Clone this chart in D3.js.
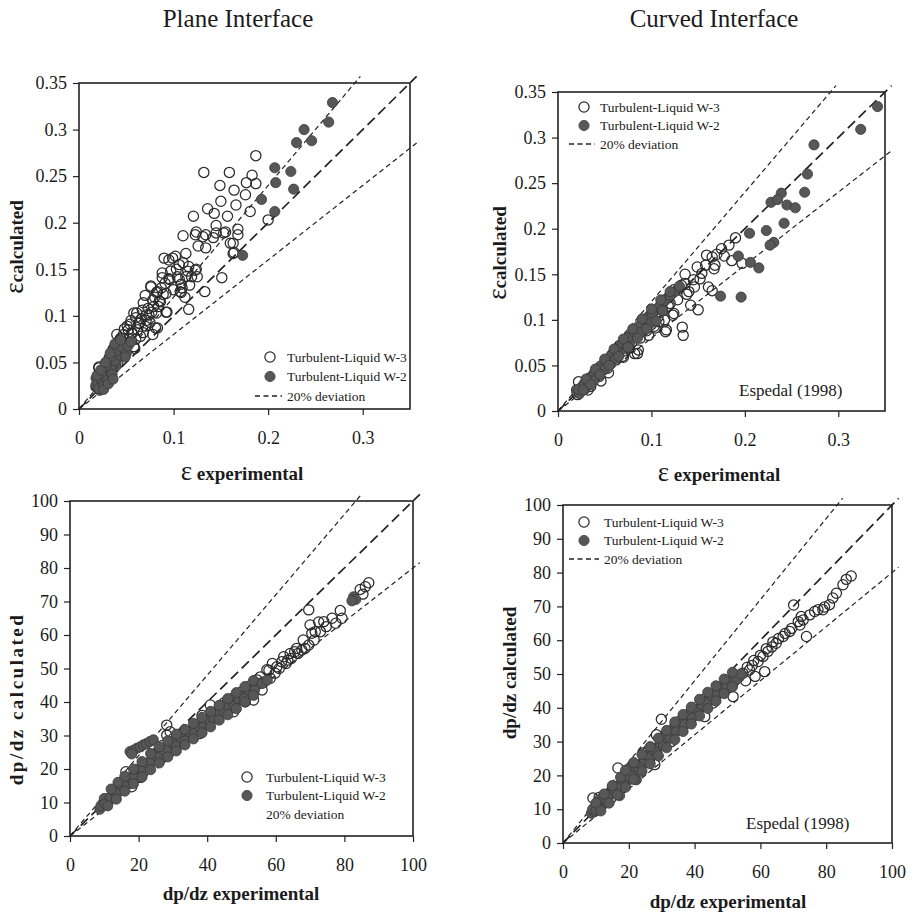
<!DOCTYPE html>
<html lang="en">
<head>
<meta charset="UTF-8">
<title>Plane / Curved Interface</title>
<script src="https://cdn.jsdelivr.net/npm/d3@7/dist/d3.min.js"></script>
<style>
  body { margin: 0; background: #fff; }
  svg { display: block; }
  text { font-family: "Liberation Serif", "Times New Roman", serif; fill: #1b1b1b; }
</style>
</head>
<body>
<script>
// ---- data ----
const epsTicksX = [0, 0.1, 0.2, 0.3];
const epsTicksY = [0, 0.05, 0.1, 0.15, 0.2, 0.25, 0.3, 0.35];
const dpTicksX = [0, 20, 40, 60, 80, 100];
const dpTicksY = [0, 10, 20, 30, 40, 50, 60, 70, 80, 90, 100];
const legendLabels = ["Turbulent-Liquid W-3", "Turbulent-Liquid W-2", "20% deviation"];
const deviationRatios = [1.2, 1, 0.8];

// plane interface, void fraction
const planeEpsOpen = [
  [0.187,0.272],[0.132,0.254],[0.159,0.254],[0.183,0.251],[0.149,0.240],[0.164,0.235],[0.177,0.243],[0.187,0.242],
  [0.176,0.230],[0.166,0.219],[0.150,0.223],[0.136,0.215],[0.181,0.212],[0.121,0.207],[0.143,0.210],[0.157,0.207],
  [0.145,0.197],[0.168,0.193],[0.168,0.187],[0.200,0.203],[0.110,0.186],[0.124,0.190],[0.131,0.185],[0.142,0.184],
  [0.153,0.189],[0.126,0.175],[0.134,0.173],[0.163,0.178],[0.113,0.167],[0.163,0.167],[0.090,0.162],[0.099,0.162],
  [0.110,0.157],[0.103,0.150],[0.115,0.148],[0.124,0.150],[0.119,0.142],[0.151,0.141],[0.088,0.141],[0.096,0.139],
  [0.108,0.134],[0.108,0.125],[0.076,0.132],[0.082,0.125],[0.089,0.123],[0.133,0.126],[0.068,0.114],[0.078,0.117],
  [0.085,0.116],[0.116,0.107],[0.061,0.103],[0.071,0.101],[0.082,0.103],[0.092,0.104],[0.054,0.091],[0.064,0.092],
  [0.075,0.093],[0.083,0.087],[0.056,0.082],[0.068,0.082],[0.078,0.080],[0.043,0.074],[0.050,0.071],[0.059,0.065],
  [0.036,0.064],[0.043,0.060],[0.032,0.055],[0.039,0.049],[0.021,0.044],[0.025,0.039],[0.022,0.031],[0.018,0.024],
  [0.123,0.187],[0.134,0.187],[0.145,0.189],[0.155,0.190],[0.160,0.178],[0.164,0.168],[0.095,0.160],[0.102,0.164],
  [0.106,0.155],[0.116,0.153],[0.123,0.149],[0.125,0.142],[0.095,0.140],[0.106,0.139],[0.113,0.142],[0.109,0.130],
  [0.107,0.126],[0.088,0.146],[0.076,0.131],[0.083,0.126],[0.092,0.124],[0.070,0.122],[0.086,0.115],[0.093,0.104],
  [0.079,0.110],[0.067,0.106],[0.074,0.101],[0.058,0.103],[0.063,0.092],[0.051,0.089],[0.070,0.089],[0.081,0.087],
  [0.056,0.081],[0.065,0.078],[0.044,0.076],[0.049,0.070],[0.058,0.067],[0.039,0.063],[0.046,0.060],[0.035,0.053],
  [0.041,0.049],[0.028,0.042],[0.021,0.045],[0.033,0.035],[0.025,0.030],[0.019,0.024],
  [0.030,0.050],[0.034,0.058],[0.038,0.067],[0.042,0.072],[0.047,0.080],[0.052,0.085],[0.055,0.095],[0.060,0.098],
  [0.062,0.085],[0.066,0.097],[0.071,0.095],[0.073,0.108],[0.077,0.104],[0.080,0.120],[0.084,0.110],[0.087,0.130],
  [0.091,0.135],[0.097,0.148],[0.100,0.128],[0.104,0.142],[0.112,0.120],[0.117,0.133],[0.047,0.070],[0.053,0.076],
  [0.060,0.075],[0.040,0.080],[0.048,0.086],[0.027,0.036],[0.031,0.045]
];
const planeEpsFilled = [
  [0.268,0.329],[0.238,0.300],[0.246,0.288],[0.264,0.308],[0.230,0.286],[0.207,0.259],[0.224,0.255],[0.208,0.243],
  [0.227,0.236],[0.193,0.225],[0.207,0.212],[0.173,0.165],
  [0.018,0.026],[0.021,0.031],[0.025,0.035],[0.026,0.040],[0.030,0.044],[0.032,0.049],[0.035,0.054],[0.037,0.060],
  [0.041,0.065],[0.042,0.070],[0.023,0.024],[0.028,0.029],[0.033,0.038],[0.039,0.046],[0.046,0.057],[0.018,0.033],
  [0.022,0.020],[0.027,0.033],[0.031,0.041],[0.036,0.047],[0.040,0.055],[0.044,0.062],
  [0.020,0.028],[0.024,0.027],[0.029,0.036],[0.034,0.043],[0.038,0.052],[0.043,0.058],[0.047,0.064],[0.024,0.038],
  [0.029,0.047],[0.034,0.056],[0.039,0.062],[0.045,0.067],[0.050,0.060],[0.052,0.068],[0.021,0.022],[0.026,0.025],
  [0.030,0.031],[0.035,0.037],
  [0.019,0.036],[0.023,0.042],[0.028,0.050],[0.033,0.060],[0.038,0.070],[0.044,0.074],[0.049,0.056],[0.055,0.072],
  [0.026,0.021],[0.031,0.027],[0.036,0.032]
];

// curved interface, void fraction
const curvedEpsOpen = [
  [0.190,0.190],[0.183,0.182],[0.175,0.178],[0.186,0.165],[0.197,0.162],[0.159,0.171],[0.165,0.169],[0.149,0.158],
  [0.167,0.156],[0.136,0.150],[0.154,0.151],[0.145,0.144],[0.161,0.136],[0.165,0.132],[0.136,0.140],[0.140,0.131],
  [0.124,0.133],[0.119,0.125],[0.142,0.116],[0.150,0.111],[0.111,0.116],[0.124,0.107],[0.133,0.092],[0.134,0.083],
  [0.115,0.087],[0.104,0.105],[0.097,0.098],[0.104,0.091],[0.092,0.089],[0.085,0.063],[0.076,0.069],[0.069,0.060],
  [0.062,0.056],[0.053,0.047],[0.044,0.038],[0.035,0.027],[0.022,0.032],[0.021,0.018],[0.097,0.083],[0.083,0.085],
  [0.168,0.160],[0.128,0.133],[0.118,0.115],[0.123,0.105],[0.114,0.100],[0.107,0.103],[0.116,0.089],[0.103,0.093],
  [0.095,0.088],[0.086,0.067],[0.082,0.063],[0.075,0.070],[0.070,0.059],[0.054,0.042],[0.046,0.033],[0.032,0.023],
  [0.020,0.023],
  [0.058,0.062],[0.066,0.072],[0.072,0.066],[0.079,0.075],[0.088,0.080],[0.093,0.100],[0.100,0.095],[0.108,0.098],
  [0.112,0.110],[0.120,0.118],[0.128,0.122],[0.132,0.138],[0.138,0.128],[0.146,0.136],[0.152,0.145],[0.158,0.160],
  [0.170,0.172],[0.178,0.170],[0.040,0.040],[0.048,0.045],[0.030,0.029],[0.026,0.025]
];
const curvedEpsFilled = [
  [0.342,0.334],[0.324,0.309],[0.274,0.292],[0.267,0.260],[0.264,0.240],[0.239,0.239],[0.228,0.229],[0.245,0.226],
  [0.254,0.223],[0.242,0.206],[0.205,0.195],[0.223,0.198],[0.231,0.185],[0.227,0.182],[0.193,0.170],[0.206,0.163],
  [0.215,0.157],[0.174,0.126],[0.196,0.125],[0.235,0.232],
  [0.020,0.021],[0.026,0.027],[0.031,0.033],[0.037,0.039],[0.043,0.046],[0.049,0.052],[0.055,0.058],[0.061,0.065],
  [0.067,0.071],[0.073,0.078],[0.079,0.084],[0.085,0.091],[0.091,0.097],[0.097,0.104],[0.103,0.110],[0.110,0.117],
  [0.117,0.124],[0.124,0.130],[0.023,0.019],[0.029,0.024],[0.034,0.030],[0.040,0.036],[0.046,0.043],[0.052,0.049],
  [0.058,0.055],[0.064,0.062],[0.070,0.068],[0.077,0.075],[0.084,0.083],[0.094,0.095],[0.106,0.112],[0.130,0.137],
  [0.022,0.024],[0.028,0.030],[0.033,0.036],[0.039,0.042],[0.045,0.049],[0.051,0.055],[0.057,0.061],[0.063,0.067],
  [0.069,0.074],[0.075,0.081],[0.081,0.087],[0.087,0.094],[0.095,0.100],[0.101,0.107],[0.108,0.114],[0.114,0.121],
  [0.120,0.127],[0.027,0.023],[0.038,0.033],[0.050,0.046],[0.062,0.058],[0.074,0.071],[0.088,0.086],[0.100,0.097],
  [0.112,0.110],
  [0.030,0.035],[0.040,0.046],[0.050,0.057],[0.060,0.068],[0.070,0.079],[0.080,0.090],[0.090,0.101],[0.100,0.112],
  [0.110,0.122],[0.120,0.131],[0.035,0.029],[0.045,0.040],[0.055,0.050],[0.065,0.060],[0.075,0.070],[0.085,0.080],
  [0.095,0.090],[0.105,0.099]
];

// plane interface, pressure gradient
const planeDpOpen = [
  [87.1,75.6],[86.1,74.4],[84.6,73.6],[85.4,72.2],[78.8,67.3],[79.3,65.0],[76.4,65.0],[74.7,62.5],[72.5,63.9],
  [70.0,63.0],[69.6,67.5],[70.5,60.5],[71.2,58.5],[69.6,57.0],[67.6,55.5],[66.1,56.0],[64.2,54.5],[62.3,53.5],
  [61.7,52.0],[60.3,50.5],[59.8,48.6],[58.4,47.1],[57.4,49.6],[54.5,46.6],[56.0,43.6],[54.5,45.6],[52.0,43.1],
  [51.1,40.1],[53.5,40.6],[47.7,40.6],[47.7,37.1],[45.7,39.6],[43.8,36.1],[40.9,39.1],[40.9,35.1],[37.9,33.6],
  [37.9,30.6],[35.5,31.6],[32.1,29.7],[28.2,33.1],[29.2,31.1],[30.2,29.2],[28.2,30.1],[24.3,27.2],[16.3,19.2],
  [18.0,14.7],[33.5,30.5],[36.5,32.5],[39.5,34.0],[42.5,37.0],[44.5,38.5],[49.0,42.0],[50.5,41.5],[63.5,52.5],
  [65.5,55.0],[73.0,61.0],[68.0,58.5],[26.5,23.5],[22.0,19.8],[20.5,17.5],
  [45.0,39.8],[46.5,38.0],[48.0,41.5],[50.0,43.0],[52.5,44.8],[55.5,47.5],[56.5,46.0],[58.0,49.5],[59.0,51.5],
  [61.0,50.0],[63.0,51.5],[64.5,53.0],[66.5,54.5],[68.5,56.0],[71.5,61.0],[74.0,64.0],[77.5,63.5],[31.0,28.0],
  [34.5,30.0],[38.5,36.0],[41.5,36.5],[27.0,27.0],[25.5,25.0]
];
const planeDpFilled = [
  [82.7,71.4],[83.3,70.6],[82.2,70.2],
  [17.5,25.2],[18.5,25.6],[19.5,26.2],[20.5,26.6],[21.4,27.2],[22.3,27.6],[23.3,28.2],[24.3,28.7],[18.0,24.5],
  [8.7,8.0],[9.5,9.6],[10.7,10.5],[11.5,10.6],[12.6,12.5],[13.5,12.6],[14.6,14.3],[15.5,14.5],[17.0,16.6],
  [18.0,16.9],[19.4,18.9],[20.5,19.0],[21.9,20.8],[23.0,21.2],[24.3,22.8],[25.5,23.0],[26.7,24.6],[28.0,25.0],
  [29.2,26.4],[30.5,27.0],[31.6,28.0],[33.0,28.6],[34.0,29.6],[35.5,30.6],[36.9,31.6],[38.5,32.4],[39.9,33.6],
  [41.5,35.0],[42.8,36.0],[44.5,37.2],[45.7,38.0],[47.0,39.4],[48.6,40.2],[50.0,41.6],[51.5,42.6],[53.0,43.8],
  [54.4,45.0],[10.0,11.2],[16.0,15.6],
  [9.0,9.0],[10.2,9.6],[11.8,11.6],[13.0,13.2],[14.0,13.0],[15.0,15.2],[16.5,15.4],[17.5,17.4],[18.8,17.8],
  [20.0,20.0],[21.2,19.8],[22.5,21.8],[23.6,22.2],[25.0,24.0],[26.2,23.8],[27.4,25.6],[28.6,26.0],[30.0,27.6],
  [31.0,26.8],[32.4,29.2],[33.6,28.4],[35.0,31.0],[36.2,30.6],[37.6,32.6],[39.0,32.8],[40.6,34.6],[42.0,35.0],
  [43.5,37.0],[45.0,36.8],[46.3,39.0],[47.8,38.8],[49.2,41.0],[50.8,41.0],[52.3,43.4],[53.8,43.6],
  [12.0,14.0],[14.0,16.0],[16.0,17.8],[18.5,20.0],[21.0,22.2],[23.5,24.6],[26.0,26.6],[28.5,28.4],[31.0,30.4],
  [33.5,31.8],[36.0,33.6],[38.5,35.4],[41.0,37.2],[43.5,39.0],[46.0,41.0],[48.5,42.8],[51.0,44.6],[53.5,46.4],
  [11.0,9.0],[13.5,11.0],[16.0,13.4],[18.5,15.6],[21.0,17.6],[23.5,19.8],[26.0,21.8],[28.5,23.6],[31.0,25.4],
  [33.5,27.2],[36.0,29.0],[38.5,30.8],[41.0,32.6],[43.5,34.6],[46.0,36.2],[48.5,38.0],[51.0,40.0],[53.5,42.0],
  [56.0,45.5],[57.5,46.5]
];

// curved interface, pressure gradient
const curvedDpOpen = [
  [87.6,79.0],[86.1,78.0],[85.1,76.4],[83.1,73.9],[79.5,69.8],[70.1,70.4],[72.4,67.0],[75.0,67.5],[76.5,68.5],
  [74.0,61.1],[72.0,64.5],[68.9,62.6],[66.9,61.1],[64.8,59.1],[62.3,56.7],[60.8,55.2],[59.3,53.7],[61.3,50.7],
  [58.4,49.3],[56.7,51.2],[54.7,50.2],[51.7,47.3],[51.7,43.3],[48.6,44.8],[45.6,41.4],[43.1,37.4],[42.6,42.4],
  [38.5,38.4],[35.5,36.0],[32.9,30.0],[29.9,36.6],[30.4,29.6],[28.4,32.0],[27.9,23.2],[26.3,24.6],[24.3,26.6],
  [16.7,22.2],[9.1,13.3],[79.0,69.0],[71.5,65.5],[63.5,58.0],[57.5,52.5],[55.5,48.0],[53.0,49.0],[46.5,43.5],
  [40.5,40.0],[34.0,34.5],[31.5,32.5],[22.0,22.5],[20.5,20.0],[12.5,14.0],[14.5,13.2],
  [56.0,52.0],[58.0,54.0],[60.0,55.5],[61.8,57.5],[63.8,59.5],[65.5,60.5],[67.5,62.0],[69.5,63.5],[73.0,66.0],
  [77.5,69.0],[81.0,70.5],[82.0,72.5],[44.0,42.0],[47.5,45.0],[50.0,46.0],[36.8,37.0],[26.0,27.5],[18.0,19.5],
  [11.0,13.5]
];
const curvedDpFilled = [
  [8.6,8.8],[9.5,9.2],[10.3,10.5],[11.2,11.0],[12.0,12.3],[12.8,11.8],[13.6,13.4],[14.5,14.8],[15.3,14.6],
  [16.2,16.0],[17.0,17.2],[17.2,14.0],[18.0,17.6],[19.0,19.2],[19.8,18.6],[20.7,20.6],[21.6,21.8],[22.3,18.7],
  [22.5,21.0],[23.4,23.2],[24.3,24.0],[25.2,25.3],[26.0,24.8],[27.0,26.8],[28.0,28.0],[29.0,28.5],[30.0,30.0],
  [31.0,30.4],[32.0,32.0],[33.0,32.4],[34.0,34.0],[35.0,34.2],[36.5,34.7],[37.5,36.0],[38.5,37.2],[40.0,38.5],
  [41.5,39.8],[43.0,40.5],[44.5,42.0],[46.0,43.0],[47.5,44.5],[49.0,45.6],[50.5,46.8],[52.0,48.0],[53.5,49.0],
  [20.0,22.0],[15.0,16.5],[11.0,12.8],
  [9.0,10.0],[10.0,9.6],[11.6,11.8],[12.4,12.8],[13.2,12.6],[14.0,14.2],[15.8,15.4],[16.6,16.6],[17.6,16.8],
  [18.5,18.4],[19.4,20.0],[20.3,19.6],[21.2,21.0],[22.0,22.4],[23.0,22.0],[24.0,23.0],[24.8,24.6],[25.6,26.0],
  [26.5,25.5],[27.5,27.4],[28.5,27.2],[29.5,29.4],[30.5,29.0],[31.5,31.2],[32.5,31.0],[33.5,33.2],[34.5,33.0],
  [36.0,35.4],[37.0,35.0],[38.0,37.8],[39.3,37.0],[40.8,39.5],[42.2,41.0],[43.8,41.6],[45.2,43.5],[46.8,44.0],
  [48.2,46.0],[49.8,46.5],[51.2,48.5],[52.8,48.4],[54.0,50.0],
  [10.0,11.8],[12.5,14.5],[15.0,17.0],[17.5,19.5],[19.0,21.5],[21.5,23.8],[24.0,26.2],[26.5,28.5],[29.0,31.0],
  [31.5,33.3],[34.0,35.8],[36.5,38.0],[39.0,40.2],[41.5,42.5],[44.0,44.6],[46.5,46.5],[49.0,48.5],[51.5,50.5],
  [11.5,9.5],[14.0,11.8],[16.5,14.2],[19.0,16.5],[21.5,18.8],[24.0,21.2],[26.5,23.4],[29.0,25.8],[31.5,28.2],
  [34.0,30.6],[36.5,33.0],[39.0,35.2],[41.5,37.6],[44.0,39.8],[46.5,42.0],[49.0,44.2],[51.5,46.2]
];

// ---- layout ----
const W = 916, H = 913;
const panels = [
  { open: planeEpsOpen, filled: planeEpsFilled, max: 0.35, xt: epsTicksX, yt: epsTicksY, eps: true,
    box: [79, 83, 410, 409], xTitle: [242, 480], yTitle: [16, 247], yStretch: 0,
    leg: [270, 287, 357, 19.5, true], note: null },
  { open: curvedEpsOpen, filled: curvedEpsFilled, max: 0.35, xt: epsTicksX, yt: epsTicksY, eps: true,
    box: [558, 92, 885, 411], xTitle: [719, 481], yTitle: [499, 253], yStretch: 0,
    leg: [584, 600, 107, 18.5, true], note: [739, 396] },
  { open: planeDpOpen, filled: planeDpFilled, max: 100, xt: dpTicksX, yt: dpTicksY, eps: false,
    box: [70, 501, 413, 836], xTitle: [241, 900], yTitle: [16, 699], yStretch: 2.5,
    leg: [247, 266, 777, 18.5, false], note: null },
  { open: curvedDpOpen, filled: curvedDpFilled, max: 100, xt: dpTicksX, yt: dpTicksY, eps: false,
    box: [563, 505, 892, 843], xTitle: [728, 908], yTitle: [509, 673], yStretch: 0,
    leg: [584, 604, 522, 18.5, true], note: [746, 829] }
];
const headings = [["Plane Interface", 238, 27], ["Curved Interface", 714, 27]];

const svg = d3.select("body").append("svg")
  .attr("width", W).attr("height", H)
  .attr("viewBox", [0, 0, W, H]);

headings.forEach(([t, x, y]) => {
  svg.append("text").attr("x", x).attr("y", y)
    .attr("text-anchor", "middle").attr("font-size", 25).text(t);
});

const fmt = d3.format("~g");
const R = 5.1;

panels.forEach(p => {
  const [x0, y0, x1, y1] = p.box;
  const x = d3.scaleLinear().domain([0, p.max]).range([x0, x1]);
  const y = d3.scaleLinear().domain([0, p.max]).range([y1, y0]);
  const g = svg.append("g");

  // axes
  g.append("g").attr("transform", `translate(0,${y1})`)
    .call(d3.axisBottom(x).tickValues(p.xt).tickFormat(fmt).tickSize(6).tickPadding(16))
    .call(a => a.select(".domain").remove())
    .call(a => a.selectAll("line").attr("stroke", "#222").attr("stroke-width", 1.2))
    .call(a => a.selectAll("text").attr("font-size", 18).attr("fill", "#1b1b1b")
      .attr("font-family", "Liberation Serif, serif"));
  g.append("g").attr("transform", `translate(${x0},0)`)
    .call(d3.axisLeft(y).tickValues(p.yt).tickFormat(fmt).tickSize(6).tickPadding(6))
    .call(a => a.select(".domain").remove())
    .call(a => a.selectAll("line").attr("stroke", "#222").attr("stroke-width", 1.2))
    .call(a => a.selectAll("text").attr("font-size", 18).attr("fill", "#1b1b1b")
      .attr("font-family", "Liberation Serif, serif"));

  // 20% deviation lines and parity line
  const lim = p.max * 1.02;
  deviationRatios.forEach(r => {
    const xe = Math.min(lim, lim / r);
    g.append("line")
      .attr("x1", x(0)).attr("y1", y(0)).attr("x2", x(xe)).attr("y2", y(xe * r))
      .attr("stroke", "#222")
      .attr("stroke-width", r === 1 ? 1.7 : 1.2)
      .attr("stroke-dasharray", r === 1 ? "10,5" : "5,3.5");
  });

  // points
  g.append("g").selectAll("circle").data(p.open).join("circle")
    .attr("cx", d => x(d[0])).attr("cy", d => y(d[1])).attr("r", R)
    .attr("fill", "none").attr("stroke", "#2b2b2b").attr("stroke-width", 1.25);
  g.append("g").selectAll("circle").data(p.filled).join("circle")
    .attr("cx", d => x(d[0])).attr("cy", d => y(d[1])).attr("r", R)
    .attr("fill", "#575757").attr("stroke", "#3a3a3a").attr("stroke-width", 0.8);

  // frame
  g.append("rect").attr("x", x0).attr("y", y0).attr("width", x1 - x0).attr("height", y1 - y0)
    .attr("fill", "none").attr("stroke", "#222").attr("stroke-width", 1.6);

  // axis titles
  const xt = g.append("text").attr("x", p.xTitle[0]).attr("y", p.xTitle[1])
    .attr("text-anchor", "middle").attr("font-size", 19).attr("font-weight", "bold");
  const yt = g.append("text")
    .attr("transform", `translate(${p.yTitle[0]},${p.yTitle[1]}) rotate(-90)`)
    .attr("text-anchor", "middle").attr("dy", "0.35em").attr("font-size", 19).attr("font-weight", "bold")
    .attr("letter-spacing", p.yStretch);
  if (p.eps) {
    xt.append("tspan").attr("font-weight", "normal").attr("font-size", 27).text("ε");
    xt.append("tspan").text(" experimental");
    yt.append("tspan").attr("font-weight", "normal").attr("font-size", 27).text("ε");
    yt.append("tspan").text("calculated");
  } else {
    xt.text("dp/dz experimental");
    yt.text("dp/dz calculated");
  }

  // legend
  const [cx, tx, ly, step, dash] = p.leg;
  legendLabels.forEach((lab, i) => {
    const yy = ly + i * step;
    if (i === 0) g.append("circle").attr("cx", cx).attr("cy", yy).attr("r", R)
      .attr("fill", "#fff").attr("stroke", "#2b2b2b").attr("stroke-width", 1.25);
    if (i === 1) g.append("circle").attr("cx", cx).attr("cy", yy).attr("r", R)
      .attr("fill", "#575757").attr("stroke", "#3a3a3a").attr("stroke-width", 0.8);
    if (i === 2 && dash) g.append("line").attr("x1", cx - 15).attr("x2", tx - 5)
      .attr("y1", yy).attr("y2", yy).attr("stroke", "#222").attr("stroke-width", 1.3)
      .attr("stroke-dasharray", "5,3.5");
    g.append("text").attr("x", tx).attr("y", yy).attr("dy", "0.35em")
      .attr("font-size", 13.5).text(lab);
  });

  if (p.note) {
    g.append("text").attr("x", p.note[0]).attr("y", p.note[1]).attr("font-size", 17).text("Espedal (1998)");
  }
});
</script>
</body>
</html>
